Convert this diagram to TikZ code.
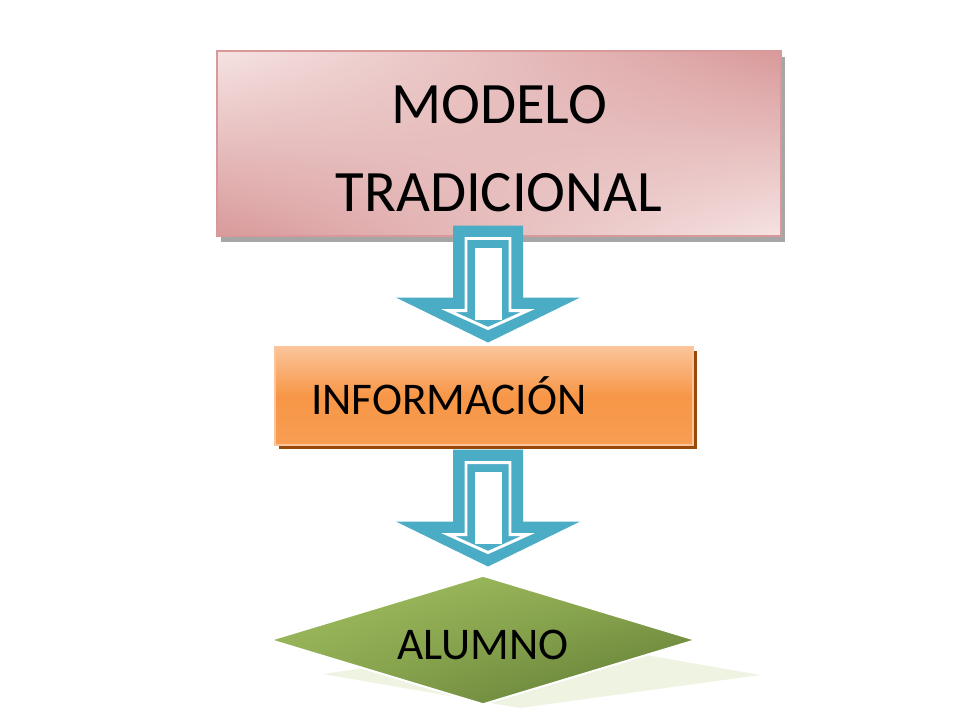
\documentclass[tikz,border=0pt]{standalone}
\usepackage{fontspec}
\setmainfont{Carlito}
\usetikzlibrary{shapes.geometric,shadows,shadings,calc}
\definecolor{pinkL}{HTML}{F5E3E2}
\definecolor{pinkD}{HTML}{D9999A}
\definecolor{orangeM}{HTML}{F79646}
\definecolor{orangeL}{HTML}{FBC49A}
\definecolor{orangeS}{HTML}{984807}
\definecolor{arrowblue}{HTML}{4BACC6}
\definecolor{greenL}{HTML}{A2C060}
\definecolor{greenD}{HTML}{5B7530}
\definecolor{greenS}{HTML}{EEF3E2}
\newcommand{\low}[1]{\raisebox{-4pt}[\height][\depth]{#1}}
\begin{document}
\begin{tikzpicture}[x=0.75pt,y=-0.75pt,
  modelobox/.style={rectangle,draw=pinkD,line width=0.8pt,inner sep=0pt,
    minimum width=423pt,minimum height=138.75pt,align=center,
    upper left=pinkL,upper right=pinkD,lower left=pinkD,lower right=pinkL,
    general shadow={fill=black!35,shadow xshift=3pt,shadow yshift=-4.5pt},
    font=\fontsize{44}{66}\selectfont},
  infobox/.style={rectangle,draw=orangeL,line width=0.8pt,inner xsep=27pt,inner ysep=0pt,
    text width=259.5pt,minimum height=73.5pt,align=left,
    top color=orangeL,bottom color=orangeM!85!orangeL,middle color=orangeM,
    general shadow={fill=orangeS,shadow xshift=3pt,shadow yshift=-3pt},
    font=\fontsize{34}{40}\selectfont},
  alumnobox/.style={diamond,draw=white,line width=1.5pt,inner sep=0pt,aspect=3.3,
    minimum width=320pt,minimum height=97pt,
    upper left=greenL,upper right=greenL!70!greenD,lower left=greenL!70!greenD,lower right=greenD,
    font=\fontsize{34}{40}\selectfont}]
\fill[white] (0,0) rectangle (960,720);
\useasboundingbox (0,0) rectangle (960,720);

\node[modelobox] (modelo) at (499,143.5) {\low{MODELO}\\\low{TRADICIONAL}};
\node[infobox] (info) at (484,396) {INFORMACIÓN};

% reflejo del rombo
\fill[greenS] (323,674) -- (560,640) -- (760,675) -- (520,708) -- cycle;
\node[alumnobox] (alumno) at (483,640) {\low{ALUMNO}};

\coordinate (a1) at ($(modelo.south)+(-11,-11)$);
\coordinate (a2) at ($(info.south)+(4,4)$);
\foreach \a in {a1,a2} {
  \fill[arrowblue] ($(\a)+(-35,0)$) -- ++(70,0) -- ++(0,72) -- ++(57,0)
    -- ++(-92,45) -- ++(-92,-45) -- ++(57,0) -- cycle;
  \draw[white,line width=2.2pt,line join=miter] ($(\a)+(-22,13)$) -- ++(44,0) -- ++(0,72)
    -- ++(18,0) -- ++(-40,18) -- ++(-40,-18) -- ++(18,0) -- cycle;
  \fill[white] ($(\a)+(-13,22)$) rectangle ++(27,72);
}
\end{tikzpicture}
\end{document}
